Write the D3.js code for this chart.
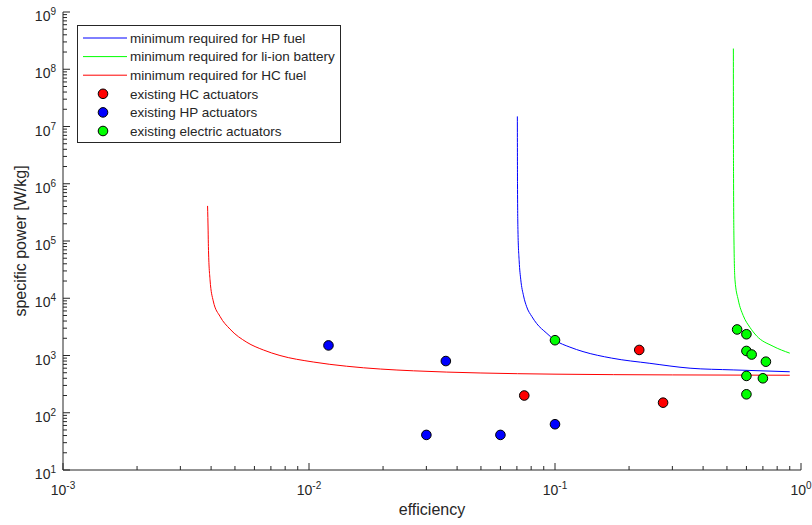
<!doctype html>
<html lang="en">

<head>
  <title>Specific power vs efficiency</title>
  <meta charset="utf-8" />
  <script src="https://cdn.jsdelivr.net/npm/d3@7"></script>
  <style>
    body { margin: 0; background: #fff; }
    svg { font-family: "Liberation Sans", Arial, Helvetica, sans-serif; }
    text { fill: #262626; }
  </style>
  <script>
    // curves: efficiency and specific power [W/kg]
    const hpFuelEff = [0.0703, 0.0704, 0.0707, 0.0715, 0.0726, 0.0745, 0.0767, 0.0805, 0.0843, 0.092, 0.1, 0.115, 0.13, 0.17, 0.243, 0.354, 0.53, 0.9];
    const hpFuelPower = [1.5e7, 1e6, 1.5e5, 4.5e4, 2.1e4, 1.1e4, 7.1e3, 4.8e3, 3.6e3, 2.5e3, 1.85e3, 1.4e3, 1.17e3, 900, 730, 600, 560, 520];

    const liionEff = [0.531, 0.5312, 0.532, 0.534, 0.539, 0.556, 0.582, 0.62, 0.66, 0.77, 0.9];
    const liionPower = [2.3e8, 1e7, 1e6, 1e5, 2.1e4, 9.3e3, 5e3, 3.1e3, 2.2e3, 1.45e3, 1.1e3];

    const hcFuelEff = [0.00387, 0.00389, 0.0039, 0.00396, 0.00408, 0.00435, 0.00477, 0.00559, 0.00652, 0.00762, 0.0104, 0.0142, 0.0195, 0.0266, 0.0496, 0.1, 0.3, 0.9];
    const hcFuelPower = [4.1e5, 1.5e5, 8e4, 2.1e4, 9e3, 4.8e3, 2.9e3, 1.7e3, 1.25e3, 1e3, 770, 650, 580, 540, 495, 472, 458, 452];

    // existing actuators
    const hcActEff = [0.075, 0.22, 0.275];
    const hcActPower = [200, 1250, 150];

    const hpActEff = [0.012, 0.036, 0.03, 0.06, 0.1];
    const hpActPower = [1500, 800, 41, 41, 63];

    const elActEff = [0.1, 0.55, 0.6, 0.6, 0.63, 0.72, 0.6, 0.7, 0.6];
    const elActPower = [1850, 2850, 2350, 1200, 1040, 780, 440, 400, 210];

    const xTicks = [-3, -2, -1, 0];
    const yTicks = [1, 2, 3, 4, 5, 6, 7, 8, 9];

    window.onload = () => {
      const w = 812;
      const h = 525;
      const left = 63, right = 801, top = 12, bottom = 470;
      const ink = "#262626";

      const svg = d3.select("#chart").append("svg").attr("width", w).attr("height", h);

      const x = d3.scaleLog().domain([1e-3, 1]).range([left, right]);
      const y = d3.scaleLog().domain([1e1, 1e9]).range([bottom, top]);

      const zip = (a, b) => a.map((v, i) => [v, b[i]]);

      // curves
      const line = d3.line()
        .x(d => x(d[0]))
        .y(d => y(d[1]))
        .curve(d3.curveMonotoneX);

      const curves = [
        { data: zip(hpFuelEff, hpFuelPower), color: "#0000ff" },
        { data: zip(liionEff, liionPower), color: "#00ff00" },
        { data: zip(hcFuelEff, hcFuelPower), color: "#ff0000" }
      ];

      svg.selectAll("path.curve")
        .data(curves)
        .enter()
        .append("path")
        .attr("class", "curve")
        .attr("d", d => line(d.data))
        .attr("fill", "none")
        .attr("stroke", d => d.color)
        .attr("stroke-width", 1);

      // markers
      const groups = [
        { data: zip(hcActEff, hcActPower), color: "#ff0000" },
        { data: zip(hpActEff, hpActPower), color: "#0000ff" },
        { data: zip(elActEff, elActPower), color: "#00ff00" }
      ];

      groups.forEach(g => {
        svg.append("g")
          .selectAll("circle")
          .data(g.data)
          .enter()
          .append("circle")
          .attr("cx", d => x(d[0]))
          .attr("cy", d => y(d[1]))
          .attr("r", 4.8)
          .attr("fill", g.color)
          .attr("stroke", "#000")
          .attr("stroke-width", 1);
      });

      // axes, matlab style: ticks pointing inward
      const minor = [];
      for (let e = -3; e < 0; e++) {
        for (let k = 2; k <= 9; k++) minor.push(k * Math.pow(10, e));
      }
      const xAxis = svg.append("g").attr("transform", "translate(0," + bottom + ")");
      xAxis.append("line").attr("x1", left).attr("x2", right).attr("stroke", ink);
      xAxis.selectAll("line.minor").data(minor).enter().append("line")
        .attr("x1", d => x(d)).attr("x2", d => x(d))
        .attr("y1", 0).attr("y2", -4).attr("stroke", ink);
      xAxis.selectAll("line.major").data(xTicks).enter().append("line")
        .attr("x1", d => x(Math.pow(10, d))).attr("x2", d => x(Math.pow(10, d)))
        .attr("y1", 0).attr("y2", -7).attr("stroke", ink);
      const xl = xAxis.selectAll("text").data(xTicks).enter().append("text")
        .attr("x", d => x(Math.pow(10, d)))
        .attr("y", 25)
        .attr("text-anchor", "middle")
        .style("font-size", "14px");
      xl.append("tspan").text("10");
      xl.append("tspan").attr("dy", -6).style("font-size", "10px").text(d => d);

      const yminor = [];
      for (let e = 1; e < 9; e++) {
        for (let k = 2; k <= 9; k++) yminor.push(k * Math.pow(10, e));
      }
      const yAxis = svg.append("g").attr("transform", "translate(" + left + ",0)");
      yAxis.append("line").attr("y1", top).attr("y2", bottom).attr("stroke", ink);
      yAxis.selectAll("line.minor").data(yminor).enter().append("line")
        .attr("y1", d => y(d)).attr("y2", d => y(d))
        .attr("x1", 0).attr("x2", 4).attr("stroke", ink);
      yAxis.selectAll("line.major").data(yTicks).enter().append("line")
        .attr("y1", d => y(Math.pow(10, d))).attr("y2", d => y(Math.pow(10, d)))
        .attr("x1", 0).attr("x2", 7).attr("stroke", ink);
      const yl = yAxis.selectAll("text").data(yTicks).enter().append("text")
        .attr("x", -7)
        .attr("y", d => y(Math.pow(10, d)) + 9)
        .attr("text-anchor", "end")
        .style("font-size", "14px");
      yl.append("tspan").text("10");
      yl.append("tspan").attr("dy", -6).style("font-size", "10px").text(d => d);

      // axis titles
      svg.append("text")
        .attr("x", (left + right) / 2)
        .attr("y", 515)
        .attr("text-anchor", "middle")
        .style("font-size", "16px")
        .text("efficiency");
      svg.append("text")
        .attr("transform", "translate(26," + (top + bottom) / 2 + ") rotate(-90)")
        .attr("text-anchor", "middle")
        .style("font-size", "16px")
        .text("specific power [W/kg]");

      // legend
      const legendItems = [
        { label: "minimum required for HP fuel", color: "#0000ff", type: "line" },
        { label: "minimum required for li-ion battery", color: "#00ff00", type: "line" },
        { label: "minimum required for HC fuel", color: "#ff0000", type: "line" },
        { label: "existing HC actuators", color: "#ff0000", type: "dot" },
        { label: "existing HP actuators", color: "#0000ff", type: "dot" },
        { label: "existing electric actuators", color: "#00ff00", type: "dot" }
      ];
      const legend = svg.append("g");
      legend.append("rect")
        .attr("x", 77.5).attr("y", 25.5)
        .attr("width", 263).attr("height", 117)
        .attr("fill", "#fff").attr("stroke", ink);
      const rows = legend.selectAll("g").data(legendItems).enter().append("g")
        .attr("transform", (d, i) => "translate(0," + (38 + i * 18.6) + ")");
      rows.filter(d => d.type === "line").append("line")
        .attr("x1", 83).attr("x2", 127)
        .attr("stroke", d => d.color);
      rows.filter(d => d.type === "dot").append("circle")
        .attr("cx", 103).attr("r", 4.8)
        .attr("fill", d => d.color).attr("stroke", "#000");
      rows.append("text")
        .attr("x", 130).attr("y", 4.8)
        .style("font-size", "13.5px")
        .text(d => d.label);
    }
  </script>
</head>

<body>
  <div id="chart"></div>
</body></html>
